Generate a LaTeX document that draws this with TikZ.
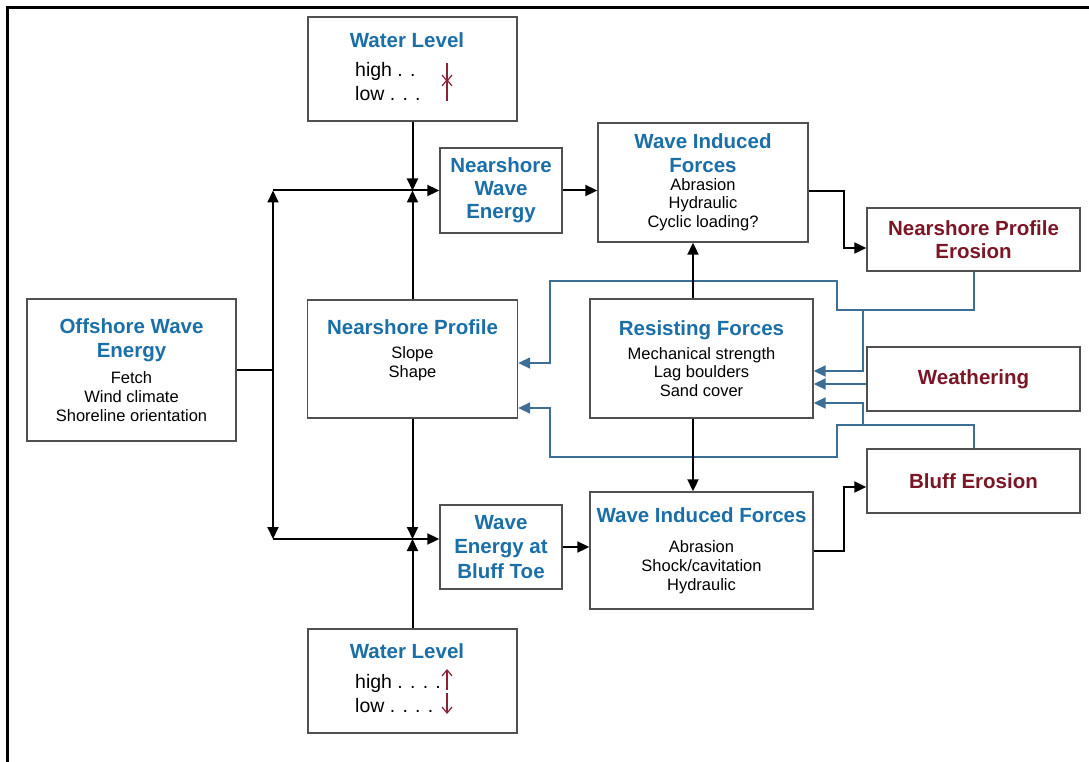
\documentclass[tikz,border=0pt]{standalone}
\usepackage{fontspec}
\setmainfont{Liberation Sans}
\usetikzlibrary{arrows.meta,positioning,calc}
\definecolor{WaveBlue}{HTML}{1B6FA8}
\definecolor{ErosRed}{HTML}{7B1626}
\definecolor{LinkBlue}{HTML}{3D6F96}
\definecolor{BoxGray}{HTML}{505050}
\definecolor{LevelRed}{HTML}{8A2235}
\newcommand{\hdblue}[1]{{\fontsize{20.5}{23}\selectfont\bfseries\color{WaveBlue}#1}}
\newcommand{\hdred}[1]{{\fontsize{20.5}{23}\selectfont\bfseries\color{ErosRed}#1}}

\begin{document}
\begin{tikzpicture}[x=1pt,y=-1pt]
  \tikzset{b/.style={draw=BoxGray,line width=1.4pt,fill=white,align=center,inner sep=0pt,
      font=\fontsize{16.5}{18.7}\selectfont},
    blk/.style={line width=2pt,-{Triangle[length=12pt,width=11pt]}},
    blu/.style={draw=LinkBlue,line width=2pt,-{Triangle[length=12pt,width=11pt]}},
    lvl/.style={draw=LevelRed,line width=1.2pt,-{Straight Barb[length=6pt,width=10pt]}},
    lv/.style={font=\fontsize{19.5}{22}\selectfont,anchor=base west,inner sep=0pt}}
  \useasboundingbox (0,0) rectangle (1089,762);
  \draw[line width=3pt] (1089,8) -- (7,8) -- (7,762);

  \node[b,minimum width=209pt,minimum height=142pt] (owe) at (131.5,370)
    {\hdblue{Offshore Wave}\\[5pt]\hdblue{Energy}\\[8pt]Fetch\\Wind climate\\Shoreline orientation};
  \node[b,minimum width=209pt,minimum height=104pt] (wlT) at (412.5,69) {};
  \node[anchor=base,inner sep=0pt] (wlT-t) at (407,48) {\hdblue{Water Level}};
  \node[lv] (wlT-hi) at (355,77) {high . .};
  \node[lv] (wlT-lo) at (355,101) {low . . .};
  \node[b,minimum width=122pt,minimum height=85pt] (nwe) at (501,190.5)
    {\hdblue{Nearshore}\\[4.5pt]\hdblue{Wave}\\[4.5pt]\hdblue{Energy}};
  \node[b,minimum width=210pt,minimum height=119pt] (wifT) at (703,182.5)
    {\hdblue{Wave Induced}\\[4.5pt]\hdblue{Forces}\\[-0.5pt]Abrasion\\Hydraulic\\Cyclic loading?};
  \node[b,minimum width=213pt,minimum height=63pt] (npe) at (973.5,239.5)
    {\hdred{Nearshore Profile}\\[4.5pt]\hdred{Erosion}};
  \node[b,minimum width=210pt,minimum height=118pt] (np) at (412.5,359)
    {\hdblue{Nearshore Profile}\\[5pt]Slope\\Shape\\[2pt]\mbox{}};
  \node[b,minimum width=223pt,minimum height=119pt] (rf) at (701.5,358.5)
    {\hdblue{Resisting Forces}\\[5.5pt]Mechanical strength\\Lag boulders\\Sand cover};
  \node[b,minimum width=213pt,minimum height=64pt] (wth) at (973.5,379) {\hdred{Weathering}};
  \node[b,minimum width=213pt,minimum height=64pt] (bef) at (973.5,481) {\hdred{Bluff Erosion}};
  \node[b,minimum width=223pt,minimum height=117pt] (wifB) at (701.5,550.5)
    {\hdblue{Wave Induced Forces}\\[11.5pt]Abrasion\\Shock/cavitation\\Hydraulic};
  \node[b,minimum width=122pt,minimum height=84pt] (webt) at (501,547)
    {\hdblue{Wave}\\[5.5pt]\hdblue{Energy at}\\[5.5pt]\hdblue{Bluff Toe}};
  \node[b,minimum width=209pt,minimum height=104pt] (wlB) at (412.5,681) {};
  \node[anchor=base,inner sep=0pt] (wlB-t) at (407,658) {\hdblue{Water Level}};
  \node[lv] (wlB-hi) at (355,688) {high . . . .};
  \node[lv] (wlB-lo) at (355,712) {low . . . .};

  \draw[lvl] (447,63) -- (447,82);
  \draw[lvl] (447,101) -- (447,79);
  \draw[lvl] (447,690) -- (447,669);
  \draw[lvl] (447,693) -- (447,714);

  % feedback lines
  \coordinate (upTap) at (863,310);
  \coordinate (loTap) at (863,425);
  \coordinate (wthIn) at ([yshift=-5pt]wth.west);
  \draw[blu] (npe.south) |- (837,310) |- (550,281) |- ([yshift=-4pt]np.east);
  \draw[blu] (upTap) |- ([yshift=-12.5pt]rf.east);
  \draw[blu] (wthIn) -- (wthIn -| rf.east);
  \draw[blu] (bef.north) |- (837,425) |- (550,457) |- ([yshift=-49pt]np.east);
  \draw[blu] (loTap) |- ([yshift=-44.5pt]rf.east);

  \coordinate (split) at (273,370);
  \coordinate (webtIn) at ([yshift=8pt]webt.west);
  \coordinate (topJ) at (wlT.south |- nwe.west);
  \coordinate (botJ) at (webtIn -| wlB.north);
  \coordinate (rfTop) at ([xshift=-8.5pt]rf.north);
  \coordinate (rfBot) at ([xshift=-8.5pt]rf.south);
  \draw[line width=2pt] (owe.east) -- (split);
  \draw[blk] (split) -- (split |- nwe.west);
  \draw[blk] (split |- nwe.west) -- (nwe.west);
  \draw[blk] (split) -- (split |- webtIn);
  \draw[blk] (split |- webtIn) -- (webtIn);
  \draw[blk] (wlT.south) -- (topJ);
  \draw[blk] (np.north) -- (topJ);
  \draw[blk] (np.south) -- (botJ);
  \draw[blk] (wlB.north) -- (botJ);
  \draw[blk] (nwe.east) -- (nwe.east -| wifT.west);
  \draw[blk] ([yshift=-8.5pt]wifT.east) -- ++(35,0) |- ([yshift=-8.5pt]npe.west);
  \draw[blk] (rfTop) -- (rfTop |- wifT.south);
  \draw[blk] (rfBot) -- (rfBot |- wifB.north);
  \draw[blk] (webt.east) -- (webt.east -| wifB.west);
  \draw[blk] (wifB.east) -- ++(30,0) |- ([yshift=-6pt]bef.west);
\end{tikzpicture}
\end{document}
